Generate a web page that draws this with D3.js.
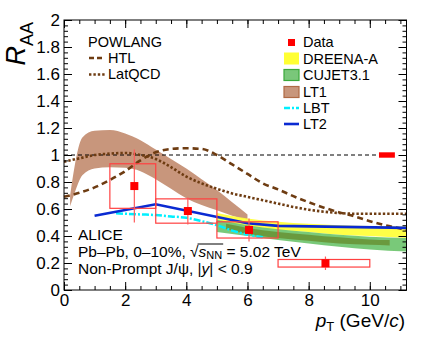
<!DOCTYPE html>
<html lang="en">
<head>
<meta charset="UTF-8">
<title>Non-prompt J/psi RAA</title>
<script src="https://d3js.org/d3.v7.min.js"></script>
<style>
  body { margin: 0; background: #fff; }
  svg { display: block; font-family: "Liberation Sans", Arial, sans-serif; }
</style>
</head>
<body>
<div id="chart"></div>
<script>
// ALICE data (non-prompt J/psi, 0-10%)
const dataPt   = [2.3, 4.05, 6.05, 8.55];
const dataLo   = [1.5, 3, 5, 7];
const dataHi   = [3, 5, 7, 10];
const dataRaa  = [0.77, 0.585, 0.445, 0.198];
const dataStat = [0.27, 0.10, 0.085, 0.05];
const dataSyst = [0.165, 0.09, 0.06, 0.028];
const globalUnc = 0.02;
const globalBoxPt = [10.3, 10.82];

// POWLANG curves
const powPt     = [0, 0.5, 1, 1.5, 2, 2.5, 3, 3.5, 4, 4.5, 5, 5.5, 6, 6.5, 7, 7.5, 8, 8.5, 9, 9.5, 10, 10.5, 11, 11.2];
const htlRaa    = [0.69, 0.72, 0.76, 0.815, 0.88, 0.96, 1.02, 1.045, 1.05, 1.045, 1.0, 0.93, 0.86, 0.79, 0.745, 0.695, 0.65, 0.61, 0.575, 0.545, 0.51, 0.48, 0.455, 0.445];
const latqcdRaa = [0.95, 0.975, 1.0, 1.01, 1.015, 1.0, 0.97, 0.91, 0.84, 0.79, 0.75, 0.715, 0.69, 0.665, 0.64, 0.615, 0.595, 0.58, 0.57, 0.565, 0.565, 0.565, 0.565, 0.565];

// LT1 band
const lt1Pt = [0.2, 0.35, 0.6, 1, 1.5, 2, 2.5, 3, 3.5, 4, 4.5, 5, 5.5, 6];
const lt1Lo = [0.62, 0.72, 0.85, 0.90, 0.91, 0.905, 0.88, 0.82, 0.75, 0.68, 0.63, 0.59, 0.55, 0.52];
const lt1Hi = [0.70, 0.92, 1.13, 1.18, 1.185, 1.16, 1.11, 1.04, 0.97, 0.90, 0.82, 0.74, 0.65, 0.56];

// DREENA-A band
const dreenaPt = [5, 6, 7, 8, 9, 10, 11.2];
const dreenaLo = [0.52, 0.47, 0.445, 0.43, 0.41, 0.40, 0.385];
const dreenaHi = [0.57, 0.53, 0.505, 0.49, 0.48, 0.475, 0.47];

// CUJET3.1 band
const cujetPt = [5, 6, 7, 8, 9, 10, 11.2];
const cujetLo = [0.43, 0.40, 0.37, 0.345, 0.32, 0.30, 0.285];
const cujetHi = [0.52, 0.48, 0.45, 0.43, 0.41, 0.395, 0.385];
const cujetInPt = [5.3, 6, 7, 8, 9, 10, 10.65];
const cujetInLo = [0.45, 0.415, 0.385, 0.365, 0.345, 0.335, 0.33];
const cujetInHi = [0.49, 0.46, 0.43, 0.41, 0.39, 0.375, 0.37];

// LBT and LT2 curves
const lbtPt  = [1.7, 2, 2.5, 3, 3.5, 4, 4.5, 5, 5.5, 6, 6.5];
const lbtRaa = [0.568, 0.565, 0.56, 0.555, 0.545, 0.535, 0.51, 0.48, 0.44, 0.41, 0.39];
const lt2Pt  = [1, 3, 6, 7, 11.2];
const lt2Raa = [0.55, 0.635, 0.495, 0.475, 0.46];

// axes
const xTicks = [0, 2, 4, 6, 8, 10];
const xTickLabels = ['0', '2', '4', '6', '8', '10'];
const yTicks = [0, 0.2, 0.4, 0.6, 0.8, 1, 1.2, 1.4, 1.6, 1.8, 2];
const yTickLabels = ['0', '0.2', '0.4', '0.6', '0.8', '1', '1.2', '1.4', '1.6', '1.8', '2'];

const W = 432, H = 338;
const brown = '#6e3c12';

const svg = d3.select('#chart').append('svg')
  .attr('width', W).attr('height', H);

const x = d3.scaleLinear().domain([0, 11.2]).range([64, 406.5]);
const y = d3.scaleLinear().domain([0, 2]).range([290, 20]);

const zip = (xs, ys) => xs.map((v, i) => [v, ys[i]]);
const line = d3.line().x(d => x(d[0])).y(d => y(d[1]));
const smooth = d3.line().x(d => x(d[0])).y(d => y(d[1])).curve(d3.curveMonotoneX);
const band = d3.area().x(d => x(d.x)).y0(d => y(d.lo)).y1(d => y(d.hi)).curve(d3.curveMonotoneX);
const bandData = (xs, lo, hi) => xs.map((v, i) => ({ x: v, lo: lo[i], hi: hi[i] }));

// theory bands
svg.append('path').datum(bandData(lt1Pt, lt1Lo, lt1Hi))
  .attr('d', band).attr('fill', '#c8967c');
svg.append('path').datum(bandData(dreenaPt, dreenaLo, dreenaHi))
  .attr('d', band).attr('fill', '#ffff33').attr('opacity', 0.9);
svg.append('path').datum(bandData(cujetPt, cujetLo, cujetHi))
  .attr('d', band).attr('fill', '#72c672').attr('opacity', 0.95);
svg.append('path').datum(bandData(cujetInPt, cujetInLo, cujetInHi))
  .attr('d', band).attr('fill', '#6a9a3e');

// reference line at 1
svg.append('line')
  .attr('x1', x(0)).attr('x2', x(globalBoxPt[0]))
  .attr('y1', y(1)).attr('y2', y(1))
  .attr('stroke', '#000').attr('stroke-width', 1).attr('stroke-dasharray', '4,3');

// theory curves
svg.append('path').datum(zip(lbtPt, lbtRaa)).attr('d', smooth)
  .attr('fill', 'none').attr('stroke', '#00f0ff').attr('stroke-width', 2.5)
  .attr('stroke-dasharray', '7,2,2,2');
svg.append('path').datum(zip(powPt, latqcdRaa)).attr('d', smooth)
  .attr('fill', 'none').attr('stroke', brown).attr('stroke-width', 2.6)
  .attr('stroke-dasharray', '2.4,2');
svg.append('path').datum(zip(powPt, htlRaa)).attr('d', smooth)
  .attr('fill', 'none').attr('stroke', brown).attr('stroke-width', 2.6)
  .attr('stroke-dasharray', '6,4');
svg.append('path').datum(zip(lt2Pt, lt2Raa)).attr('d', line)
  .attr('fill', 'none').attr('stroke', '#0a2ad2').attr('stroke-width', 2.6);

// data: systematic boxes, stat bars, markers
const pts = dataPt.map((v, i) => ({ pt: v, lo: dataLo[i], hi: dataHi[i], r: dataRaa[i], st: dataStat[i], sy: dataSyst[i] }));
svg.selectAll('.syst').data(pts).enter().append('rect')
  .attr('x', d => x(d.lo)).attr('width', d => x(d.hi) - x(d.lo))
  .attr('y', d => y(d.r + d.sy)).attr('height', d => y(d.r - d.sy) - y(d.r + d.sy))
  .attr('fill', 'none').attr('stroke', '#ff4040').attr('stroke-width', 1.2);
svg.selectAll('.stat').data(pts).enter().append('line')
  .attr('x1', d => x(d.pt)).attr('x2', d => x(d.pt))
  .attr('y1', d => y(d.r + d.st)).attr('y2', d => y(d.r - d.st))
  .attr('stroke', '#ff5a5a').attr('stroke-width', 1.2);
svg.selectAll('.mk').data(pts).enter().append('rect')
  .attr('x', d => x(d.pt) - 4).attr('y', d => y(d.r) - 4)
  .attr('width', 8).attr('height', 8).attr('fill', '#ff0000');

// global normalisation uncertainty
svg.append('rect')
  .attr('x', x(globalBoxPt[0])).attr('width', x(globalBoxPt[1]) - x(globalBoxPt[0]))
  .attr('y', y(1 + globalUnc)).attr('height', y(1 - globalUnc) - y(1 + globalUnc))
  .attr('fill', '#ff0000');

// frame and ticks (ROOT style, ticks inside)
svg.append('rect').attr('x', x(0)).attr('y', y(2))
  .attr('width', x(11.2) - x(0)).attr('height', y(0) - y(2))
  .attr('fill', 'none').attr('stroke', '#000').attr('stroke-width', 1);

const xMinor = d3.range(0, 11.2, 0.5);
const yMinor = d3.range(0, 2.001, 0.04);
function ticks(axis, vals, size) {
  return axis.tickValues(vals).tickSize(size).tickFormat('');
}
const gx = svg.append('g').attr('transform', `translate(0,${y(0)})`);
gx.call(ticks(d3.axisBottom(x), xMinor, -4));
gx.append('g').call(d3.axisBottom(x).tickValues(xTicks).tickSize(-8).tickPadding(4)
  .tickFormat((d, i) => xTickLabels[i]));
const gxt = svg.append('g').attr('transform', `translate(0,${y(2)})`);
gxt.call(ticks(d3.axisTop(x), xMinor, -4));
gxt.append('g').call(ticks(d3.axisTop(x), xTicks, -8));

const gy = svg.append('g').attr('transform', `translate(${x(0)},0)`);
gy.call(ticks(d3.axisLeft(y), yMinor, -4));
gy.append('g').call(d3.axisLeft(y).tickValues(yTicks).tickSize(-8).tickPadding(4)
  .tickFormat((d, i) => yTickLabels[i]));
const gyr = svg.append('g').attr('transform', `translate(${x(11.2)},0)`);
gyr.call(ticks(d3.axisRight(y), yMinor, -4));
gyr.append('g').call(ticks(d3.axisRight(y), yTicks, -8));

svg.selectAll('.domain').remove();
svg.selectAll('.tick line').attr('stroke', '#000');
svg.selectAll('.tick text').attr('font-size', 17).attr('fill', '#000')
  .attr('font-family', '"Liberation Sans", Arial, sans-serif');

// axis titles
const yt = svg.append('text').attr('transform', 'translate(25,22) rotate(-90)')
  .attr('text-anchor', 'end');
yt.append('tspan').attr('font-size', 27).attr('font-style', 'italic').text('R');
yt.append('tspan').attr('font-size', 18).attr('dy', 8).text('AA');

const xt = svg.append('text').attr('x', 405).attr('y', 327)
  .attr('text-anchor', 'end').attr('font-size', 19);
xt.append('tspan').attr('font-style', 'italic').text('p');
xt.append('tspan').attr('font-size', 13).attr('dy', 4).text('T');
xt.append('tspan').attr('dy', -4).text(' (GeV/');
xt.append('tspan').attr('font-style', 'italic').text('c');
xt.append('tspan').text(')');

// POWLANG legend
const lg1 = svg.append('g').attr('font-size', 14.5);
lg1.append('text').attr('x', 88).attr('y', 47).text('POWLANG');
lg1.append('line').attr('x1', 89).attr('x2', 104).attr('y1', 58).attr('y2', 58)
  .attr('stroke', brown).attr('stroke-width', 2.6).attr('stroke-dasharray', '5,3');
lg1.append('text').attr('x', 108).attr('y', 63).text('HTL');
lg1.append('line').attr('x1', 89).attr('x2', 105).attr('y1', 74.5).attr('y2', 74.5)
  .attr('stroke', brown).attr('stroke-width', 2.6).attr('stroke-dasharray', '2.4,2');
lg1.append('text').attr('x', 108).attr('y', 79).text('LatQCD');

// model legend
const lg2 = svg.append('g').attr('font-size', 14.5);
const lx = 284, tx = 303;
lg2.append('rect').attr('x', 288).attr('y', 39).attr('width', 7).attr('height', 7).attr('fill', '#ff0000');
lg2.append('text').attr('x', tx).attr('y', 47).text('Data');
lg2.append('rect').attr('x', lx).attr('y', 52.5).attr('width', 15).attr('height', 12).attr('fill', '#ffff33');
lg2.append('text').attr('x', tx).attr('y', 63.5).text('DREENA-A');
lg2.append('rect').attr('x', lx).attr('y', 69.5).attr('width', 15).attr('height', 11)
  .attr('fill', '#7ac77a').attr('stroke', '#3aa83a').attr('stroke-width', 1.2);
lg2.append('text').attr('x', tx).attr('y', 80).text('CUJET3.1');
lg2.append('rect').attr('x', lx).attr('y', 86.5).attr('width', 15).attr('height', 11)
  .attr('fill', '#c8967c').attr('stroke', '#b06a45').attr('stroke-width', 1.2);
lg2.append('text').attr('x', tx).attr('y', 97).text('LT1');
lg2.append('line').attr('x1', lx).attr('x2', 299).attr('y1', 108).attr('y2', 108)
  .attr('stroke', '#00f0ff').attr('stroke-width', 2.5).attr('stroke-dasharray', '6,2,2,2');
lg2.append('text').attr('x', tx).attr('y', 113).text('LBT');
lg2.append('line').attr('x1', lx).attr('x2', 299).attr('y1', 124).attr('y2', 124)
  .attr('stroke', '#0a2ad2').attr('stroke-width', 2.6);
lg2.append('text').attr('x', tx).attr('y', 129).text('LT2');

// ALICE labels
const lab = svg.append('g').attr('font-size', 15.5);
lab.append('text').attr('x', 78).attr('y', 239.5).text('ALICE');
const sys = lab.append('text').attr('x', 78).attr('y', 256.5);
sys.append('tspan').text('Pb\u2013Pb, 0\u201310%, \u221A');
sys.append('tspan').attr('font-style', 'italic').text('s');
sys.append('tspan').attr('font-size', 11).attr('dy', 2.5).text('NN');
sys.append('tspan').attr('dy', -2.5).text(' = 5.02 TeV');
const sn = sys.node();
const sqrtIdx = 'Pb\u2013Pb, 0\u201310%, '.length;
const s1 = sn.getExtentOfChar(sqrtIdx + 3);
const sq = sn.getExtentOfChar(sqrtIdx);
lab.append('line')
  .attr('x1', sq.x + sq.width - 1).attr('x2', s1.x + s1.width + 1)
  .attr('y1', sq.y + 1.5).attr('y2', sq.y + 1.5)
  .attr('stroke', '#000').attr('stroke-width', 1);
const np = lab.append('text').attr('x', 78).attr('y', 274);
np.append('tspan').text('Non-Prompt J/\u03C8, |');
np.append('tspan').attr('font-style', 'italic').text('y');
np.append('tspan').text('| < 0.9');
</script>
</body>
</html>
